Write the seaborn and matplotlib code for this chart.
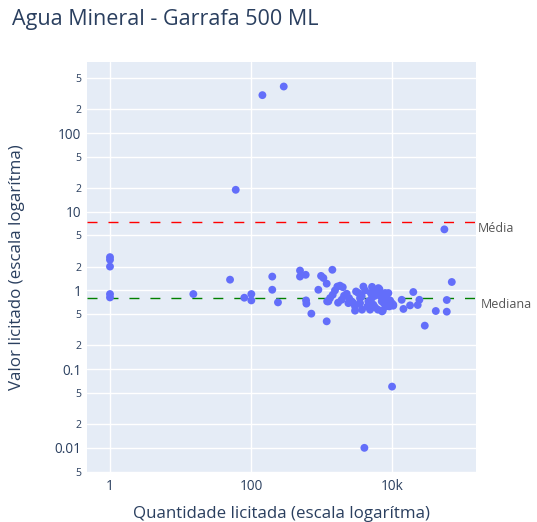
import matplotlib
matplotlib.use("Agg")
import matplotlib.pyplot as plt
import seaborn as sns
import pandas as pd

# ---- data ----
quantidade = [
    1, 1, 1, 1, 1,
    15.2, 50.4, 60.7, 80.3, 101, 101, 145, 291,
    200, 200, 241, 495, 495, 596, 603, 610, 717,
    984, 1062, 1423, 901, 1183, 1183, 1200,
    1675, 1830, 2000, 1550, 1440, 1320, 1250, 1930, 2275, 2455,
    2400, 2680, 2985, 3085, 3330, 3920, 4140, 3715, 3515, 4610,
    4465, 4990, 5155, 5430, 5740, 6065, 6400, 6610, 6920, 7140,
    7380, 7950, 8400, 8870, 9370, 9900, 10400, 9160, 8220, 4875,
    2825, 2085, 1715, 5200, 3515, 5740, 7700, 6310, 3750, 2985,
    6400, 10400,
    20000, 24400, 23100, 29100, 41700, 59700, 59700, 70300,
    14500, 18000, 13700, 7210,
    55200, 10000, 4050,
]
valor = [
    2.65, 2.45, 2.01, 0.90, 0.815,
    0.90, 1.37, 19.0, 0.808, 0.90, 0.747, 303, 390,
    1.50, 1.02, 0.705, 1.79, 1.50, 1.58, 0.747, 0.68, 0.507,
    1.53, 1.44, 1.83, 1.02, 1.22, 0.405, 0.726,
    1.12, 1.15, 1.10, 1.00, 0.88, 0.80, 0.726, 0.762, 0.908, 0.80,
    0.69, 0.726, 0.627, 0.97, 0.927, 1.12, 1.00, 0.84, 0.69, 0.726,
    0.627, 0.927, 0.80, 0.659, 0.609, 1.02, 0.927, 1.04, 0.84, 0.726,
    0.553, 0.927, 0.80, 0.927, 0.747, 0.69, 0.64, 0.627, 0.627, 0.57,
    0.69, 0.857, 0.699, 1.11, 0.797, 0.857, 0.68, 0.57, 0.57, 0.553,
    1.07, 0.659,
    0.955, 0.76, 0.653, 0.357, 0.548, 0.756, 0.537, 1.28,
    0.582, 0.646, 0.76, 0.542,
    5.97, 0.06, 0.01,
]
media = 7.38
mediana = 0.81

y_ticks = [0.005, 0.01, 0.02, 0.05, 0.1, 0.2, 0.5, 1, 2, 5, 10, 20, 50, 100, 200, 500]
y_labels = ["5", "0.01", "2", "5", "0.1", "2", "5", "1", "2", "5", "10", "2", "5", "100", "2", "5"]
x_ticks = [1, 100, 10000]
x_labels = ["1", "100", "10k"]

df = pd.DataFrame({"quantidade": quantidade, "valor": valor})

sns.set_style("white")
plt.rcParams["font.family"] = ["Open Sans", "DejaVu Sans"]

W, H = 537, 522
fig = plt.figure(figsize=(W / 100, H / 100), dpi=100)
L, R, T, B = 87, 476, 62, 473
ax = fig.add_axes([L / W, 1 - B / H, (R - L) / W, (B - T) / H])
ax.set_facecolor("#e5ecf6")
for s in ax.spines.values():
    s.set_visible(False)

ax.set_xscale("log")
ax.set_yscale("log")
ax.set_xlim(0.472, 155000)
ax.set_ylim(0.00479, 799)

ax.set_yticks(y_ticks)
ax.set_yticklabels(y_labels)
ax.set_xticks(x_ticks)
ax.set_xticklabels(x_labels)
ax.minorticks_off()
ax.grid(True, color="white", linewidth=1.0)
ax.set_axisbelow(True)
ax.tick_params(axis="both", length=0, colors="#2a3f5f", labelsize=9.8, pad=4)
for lab in ax.get_yticklabels():
    if lab.get_text() in ("2", "5"):
        lab.set_fontsize(7.6)

ax.axhline(media, color="red", linewidth=1.0, linestyle=(0, (7.2, 7.9)), zorder=2)
ax.axhline(mediana, color="green", linewidth=1.0, linestyle=(0, (7.2, 7.9)), zorder=2)

sns.scatterplot(data=df, x="quantidade", y="valor", ax=ax, color="#636efa",
                s=32, edgecolor="none", linewidth=0, zorder=3, legend=False)
ax.set_xlabel("")
ax.set_ylabel("")

trans = ax.get_yaxis_transform()
ax.text(1.005, media, "Média", transform=trans, ha="left", va="top",
        fontsize=9, color="#555555", clip_on=False)
ax.text(1.013, mediana, "Mediana", transform=trans, ha="left", va="top",
        fontsize=9, color="#555555", clip_on=False)

fig.text(12 / W, 1 - 19 / H, "Agua Mineral - Garrafa 500 ML", ha="left", va="center",
         fontsize=15.5, color="#2a3f5f")
fig.text(281.5 / W, 1 - 514 / H, "Quantidade licitada (escala logarítma)", ha="center",
         va="center", fontsize=12.2, color="#2a3f5f")
fig.text(17 / W, 1 - 267 / H, "Valor licitado (escala logarítma)", ha="center",
         va="center", rotation=90, fontsize=12.2, color="#2a3f5f")

fig.savefig("out.png", dpi=100, facecolor="white")
